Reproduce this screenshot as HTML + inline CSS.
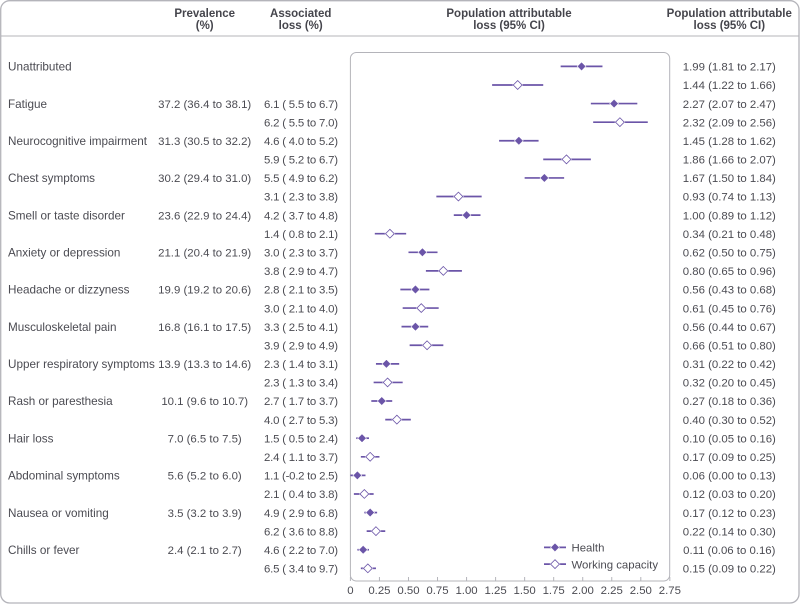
<!DOCTYPE html>
<html lang="en">
<head>
<meta charset="utf-8">
<title>Population attributable loss forest plot</title>
<style>
html,body{margin:0;padding:0;background:#fff;}
svg{display:block;font-family:"Liberation Sans",sans-serif;}
text{fill:#4b4b52;font-size:11.4px;}
.hd{font-weight:bold;font-size:11.5px;fill:#45454c;text-anchor:middle;}
.cond{font-size:11.7px;}
</style>
</head>
<body>
<svg id="chart" xmlns="http://www.w3.org/2000/svg" width="800" height="604" viewBox="0 0 800 604">
  <rect x="0.7" y="0.7" width="798.3" height="602.3" rx="9" fill="#fff" stroke="#b4b4ba" stroke-width="1.3"/>
  <line x1="1" y1="36" x2="799" y2="36" stroke="#b4b4ba" stroke-width="1"/>
  <text class="hd" x="204.7" y="17">Prevalence</text>
  <text class="hd" x="204.7" y="29">(%)</text>
  <text class="hd" x="300.7" y="17">Associated</text>
  <text class="hd" x="300.7" y="29">loss (%)</text>
  <text class="hd" x="509" y="17">Population attributable</text>
  <text class="hd" x="509" y="29">loss (95% CI)</text>
  <text class="hd" x="729.3" y="17">Population attributable</text>
  <text class="hd" x="729.3" y="29">loss (95% CI)</text>
  <path d="M350.4 575V58.5a6 6 0 0 1 6-6H663.7a6 6 0 0 1 6 6V575a6 6 0 0 1-6 6H356.4a6 6 0 0 1-6-6Z" fill="#fff" stroke="#b4b4ba" stroke-width="1"/>
  <g id="ticks"></g>
  <g id="labels"></g>
  <g id="marks"></g>
  <g id="legend"></g>
</svg>
<script>
const conditions = ["Unattributed","Fatigue","Neurocognitive impairment","Chest symptoms","Smell or taste disorder","Anxiety or depression","Headache or dizzyness","Musculoskeletal pain","Upper respiratory symptoms","Rash or paresthesia","Hair loss","Abdominal symptoms","Nausea or vomiting","Chills or fever"];
const prevalence = ["","37.2 (36.4 to 38.1)","31.3 (30.5 to 32.2)","30.2 (29.4 to 31.0)","23.6 (22.9 to 24.4)","21.1 (20.4 to 21.9)","19.9 (19.2 to 20.6)","16.8 (16.1 to 17.5)","13.9 (13.3 to 14.6)","10.1 (9.6 to 10.7)","7.0 (6.5 to 7.5)","5.6 (5.2 to 6.0)","3.5 (3.2 to 3.9)","2.4 (2.1 to 2.7)"];
const associatedHealth = ["","6.1 ( 5.5 to 6.7)","4.6 ( 4.0 to 5.2)","5.5 ( 4.9 to 6.2)","4.2 ( 3.7 to 4.8)","3.0 ( 2.3 to 3.7)","2.8 ( 2.1 to 3.5)","3.3 ( 2.5 to 4.1)","2.3 ( 1.4 to 3.1)","2.7 ( 1.7 to 3.7)","1.5 ( 0.5 to 2.4)","1.1 (-0.2 to 2.5)","4.9 ( 2.9 to 6.8)","4.6 ( 2.2 to 7.0)"];
const associatedWorking = ["","6.2 ( 5.5 to 7.0)","5.9 ( 5.2 to 6.7)","3.1 ( 2.3 to 3.8)","1.4 ( 0.8 to 2.1)","3.8 ( 2.9 to 4.7)","3.0 ( 2.1 to 4.0)","3.9 ( 2.9 to 4.9)","2.3 ( 1.3 to 3.4)","4.0 ( 2.7 to 5.3)","2.4 ( 1.1 to 3.7)","2.1 ( 0.4 to 3.8)","6.2 ( 3.6 to 8.8)","6.5 ( 3.4 to 9.7)"];
const healthMean = [1.99,2.27,1.45,1.67,1.00,0.62,0.56,0.56,0.31,0.27,0.10,0.06,0.17,0.11];
const healthLow = [1.81,2.07,1.28,1.50,0.89,0.50,0.43,0.44,0.22,0.18,0.05,0.00,0.12,0.06];
const healthHigh = [2.17,2.47,1.62,1.84,1.12,0.75,0.68,0.67,0.42,0.36,0.16,0.13,0.23,0.16];
const workingMean = [1.44,2.32,1.86,0.93,0.34,0.80,0.61,0.66,0.32,0.40,0.17,0.12,0.22,0.15];
const workingLow = [1.22,2.09,1.66,0.74,0.21,0.65,0.45,0.51,0.20,0.30,0.09,0.03,0.14,0.09];
const workingHigh = [1.66,2.56,2.07,1.13,0.48,0.96,0.76,0.80,0.45,0.52,0.25,0.20,0.30,0.22];
const tickValues = [0,0.25,0.5,0.75,1,1.25,1.5,1.75,2,2.25,2.5,2.75];
const tickLabels = ["0","0.25","0.50","0.75","1.00","1.25","1.50","1.75","2.00","2.25","2.50","2.75"];
const legendLabels = ["Health","Working capacity"];

const NS = "http://www.w3.org/2000/svg";
const PURPLE = "#6b55a8";
const xScale = v => 350.4 + v * 116.16;
const yScale = row => 66.4 + row * 18.59;

function make(tag, attrs, parent, content) {
  const el = document.createElementNS(NS, tag);
  for (const k in attrs) el.setAttribute(k, attrs[k]);
  if (content !== undefined) el.textContent = content;
  parent.appendChild(el);
  return el;
}
function diamondPoints(cx, cy, r) {
  return [cx, cy - r, cx + r, cy, cx, cy + r, cx - r, cy].join(" ");
}
function ciText(m, l, h) {
  return m.toFixed(2) + " (" + l.toFixed(2) + " to " + h.toFixed(2) + ")";
}

const tickGroup = document.getElementById("ticks");
tickValues.forEach((v, i) => {
  const mark = make("line", {x1: xScale(v), x2: xScale(v), y1: 577, y2: 581, stroke: "#b4b4ba", "stroke-width": 1}, tickGroup);
  
  
  const label = make("text", {x: xScale(v), y: 594, "text-anchor": "middle"}, tickGroup, tickLabels[i]);
  
  
});

const labelGroup = document.getElementById("labels");
conditions.forEach((name, i) => {
  const yH = yScale(i * 2) + 4.2;
  const yW = yScale(i * 2 + 1) + 4.2;
  const cond = make("text", {x: 8, y: yH, class: "cond"}, labelGroup, name);
  
  
  if (prevalence[i]) {
    const prev = make("text", {x: 204.7, y: yH, "text-anchor": "middle"}, labelGroup, prevalence[i]);
    
    
    const aH = make("text", {x: 264, y: yH, textLength: 74, lengthAdjust: "spacing"}, labelGroup, associatedHealth[i]);
    
    
    const aW = make("text", {x: 264, y: yW, textLength: 74, lengthAdjust: "spacing"}, labelGroup, associatedWorking[i]);
    
    
  }
  const pH = make("text", {x: 729.3, y: yH, "text-anchor": "middle"}, labelGroup, ciText(healthMean[i], healthLow[i], healthHigh[i]));
  
  
  const pW = make("text", {x: 729.3, y: yW, "text-anchor": "middle"}, labelGroup, ciText(workingMean[i], workingLow[i], workingHigh[i]));
  
  
});

const markGroup = document.getElementById("marks");
function drawMark(parent, x1, x2, cx, y, open) {
  const line = make("line", {x1: x1, x2: x2, y1: y, y2: y, stroke: PURPLE, "stroke-width": 1.7}, parent);
  
  
  const halo = make("polygon", {points: diamondPoints(cx, y, open ? 5.4 : 4.8), fill: "#fff"}, parent);
  
  
  const dot = make("polygon", {
    points: diamondPoints(cx, y, open ? 4.4 : 3.8),
    fill: open ? "#fff" : PURPLE,
    stroke: PURPLE,
    "stroke-width": open ? 0.8 : 0.4
  }, parent);
  
  
}
conditions.forEach((name, i) => {
  drawMark(markGroup, xScale(healthLow[i]), xScale(healthHigh[i]), xScale(healthMean[i]), yScale(i * 2), false);
  drawMark(markGroup, xScale(workingLow[i]), xScale(workingHigh[i]), xScale(workingMean[i]), yScale(i * 2 + 1), true);
});

const legendGroup = document.getElementById("legend");
legendLabels.forEach((name, i) => {
  const y = 547.4 + i * 16.7;
  drawMark(legendGroup, 544, 566, 555, y, i === 1);
  const t = make("text", {x: 571.5, y: y + 4.2}, legendGroup, name);
  
  
});
</script>
</body>
</html>
